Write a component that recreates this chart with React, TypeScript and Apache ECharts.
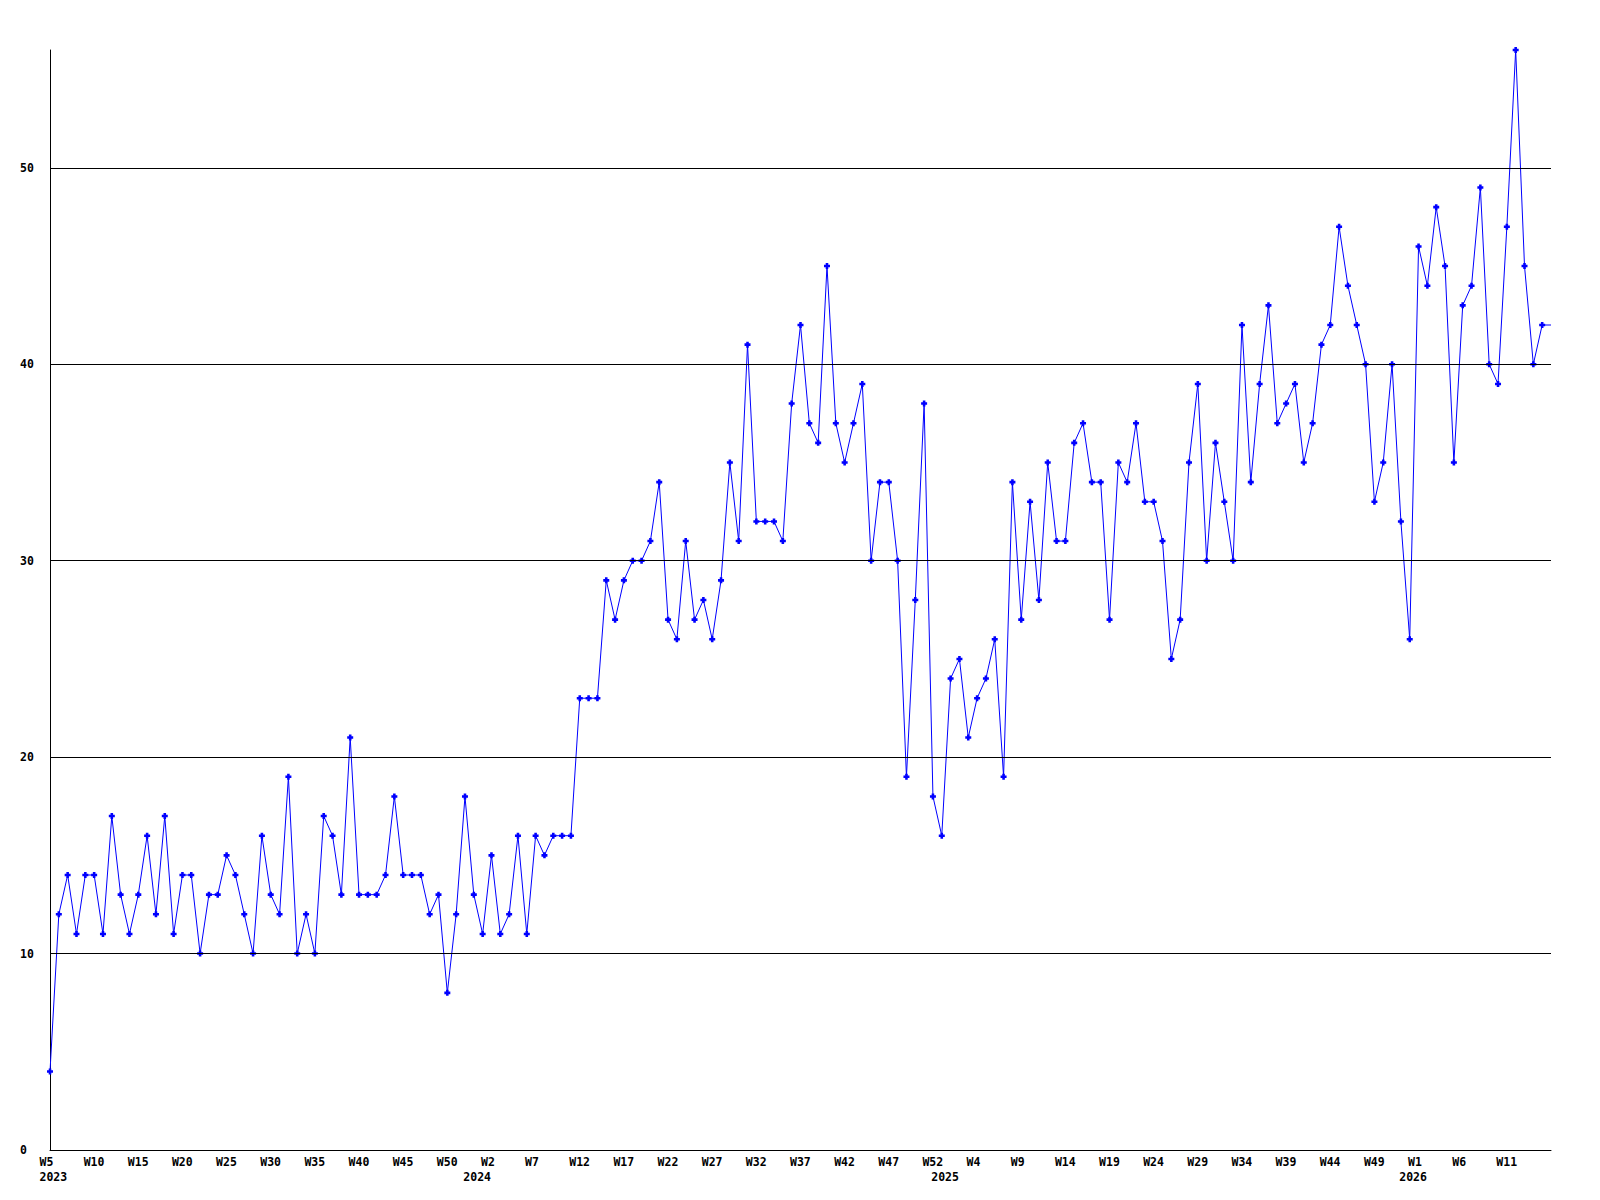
import React, { useEffect, useRef } from "react";
import * as echarts from "echarts";

// Week ranges covered by the chart (week numbering as shown in the source)
const weekRanges = [
  { year: 2023, first: 5, last: 53 },
  { year: 2024, first: 1, last: 53 },
  { year: 2025, first: 1, last: 53 },
  { year: 2026, first: 1, last: 16 },
];

// Weekly values, per year
const values2023 = [
  4, 12, 14, 11, 14, 14, 11, 17, 13, 11,
  13, 16, 12, 17, 11, 14, 14, 10, 13, 13,
  15, 14, 12, 10, 16, 13, 12, 19, 10, 12,
  10, 17, 16, 13, 21, 13, 13, 13, 14, 18,
  14, 14, 14, 12, 13, 8, 12, 18, 13,
];
const values2024 = [
  11, 15, 11, 12, 16, 11, 16, 15, 16, 16, 16,
  23, 23, 23, 29, 27, 29, 30, 30, 31, 34,
  27, 26, 31, 27, 28, 26, 29, 35, 31, 41,
  32, 32, 32, 31, 38, 42, 37, 36, 45, 37,
  35, 37, 39, 30, 34, 34, 30, 19, 28, 38,
  18, 16,
];
const values2025 = [
  24, 25, 21, 23, 24, 26, 19, 34,
  27, 33, 28, 35, 31, 31, 36, 37, 34, 34,
  27, 35, 34, 37, 33, 33, 31, 25, 27, 35,
  39, 30, 36, 33, 30, 42, 34, 39, 43, 37,
  38, 39, 35, 37, 41, 42, 47, 44, 42, 40,
  33, 35, 40, 32, 26,
];
const values2026 = [46, 44, 48, 45, 35, 43, 44, 49, 40, 39, 47, 56, 45, 40, 42, 42];

// Year tick labels and the week under which each one is written
const yearTickLabels = ["2023", "2024", "2025", "2026"];
const yearTickWeeks = ["2023-W5", "2023-W53", "2024-W53", "2025-W53"];

// Y axis tick labels
const yTickLabels = [0, 10, 20, 30, 40, 50];

const FONT = "DejaVu Sans Mono";

export default function App() {
  const ref = useRef<HTMLDivElement>(null);

  useEffect(() => {
    if (!ref.current) return;
    const chart = echarts.init(ref.current, undefined, { renderer: "svg" });

    const categories: string[] = [];
    weekRanges.forEach((r) => {
      for (let w = r.first; w <= r.last; w++) categories.push(`${r.year}-W${w}`);
    });
    const allValues = [...values2023, ...values2024, ...values2025, ...values2026];
    const lastIdx = allValues.length - 1;
    const seriesData = allValues.map((v, i) =>
      i === lastIdx ? { value: v, symbol: "none" } : v
    );

    const textStyle = {
      fontFamily: FONT,
      fontSize: 11.5,
      fontWeight: "bold" as const,
      color: "#000",
    };

    chart.setOption({
      animation: false,
      backgroundColor: "#fff",
      grid: { left: 50, right: 49, top: 50, bottom: 50, containLabel: false },
      xAxis: [
        {
          type: "category",
          data: categories,
          boundaryGap: false,
          axisLine: { show: true, lineStyle: { color: "#000", width: 1 } },
          axisTick: { show: false },
          splitLine: { show: false },
          axisLabel: {
            interval: (idx: number) => idx % 5 === 0 && idx < lastIdx,
            margin: 6,
            formatter: (v: string) => `{a|${v.split("-")[1]}}`,
            rich: { a: { ...textStyle, width: 21, align: "left", lineHeight: 12 } },
          },
        },
        {
          type: "category",
          data: categories,
          boundaryGap: false,
          position: "bottom",
          offset: 15,
          axisLine: { show: false },
          axisTick: { show: false },
          splitLine: { show: false },
          axisLabel: {
            interval: (idx: number, v: string) => yearTickWeeks.indexOf(v) >= 0,
            margin: 6,
            formatter: (v: string) => {
              const k = yearTickWeeks.indexOf(v);
              return k >= 0 ? `{a|${yearTickLabels[k]}}` : "";
            },
            rich: { a: { ...textStyle, width: 21, align: "left", lineHeight: 12 } },
          },
        },
      ],
      yAxis: {
        type: "value",
        min: 0,
        max: 56,
        interval: 10,
        axisLine: { show: true, lineStyle: { color: "#000", width: 1 } },
        axisTick: { show: false },
        splitLine: { show: false },
        axisLabel: {
          ...textStyle,
          align: "left",
          margin: 30,
          formatter: (v: number) => (yTickLabels.indexOf(v) >= 0 ? String(v) : ""),
        },
      },
      series: [
        {
          type: "line",
          data: [],
          z: 1,
          silent: true,
          markLine: {
            silent: true,
            symbol: ["none", "none"],
            label: { show: false },
            lineStyle: { color: "#000", width: 1, type: "solid" },
            emphasis: { disabled: true },
            data: yTickLabels.filter((v) => v > 0).map((v) => ({ yAxis: v })),
          },
        },
        {
          type: "line",
          data: seriesData,
          z: 2,
          xAxisIndex: 0,
          symbol: "path://M2,0H5V2H7V5H5V7H2V5H0V2H2Z",
          symbolSize: 6,
          showAllSymbol: true,
          lineStyle: { color: "#0000ff", width: 1 },
          itemStyle: { color: "#0000ff" },
          emphasis: { disabled: true },
        },
      ],
    });

    return () => chart.dispose();
  }, []);

  return (
    <div
      ref={ref}
      style={{ position: "absolute", left: 0, top: 0, width: 1600, height: 1200, background: "#fff" }}
    />
  );
}
